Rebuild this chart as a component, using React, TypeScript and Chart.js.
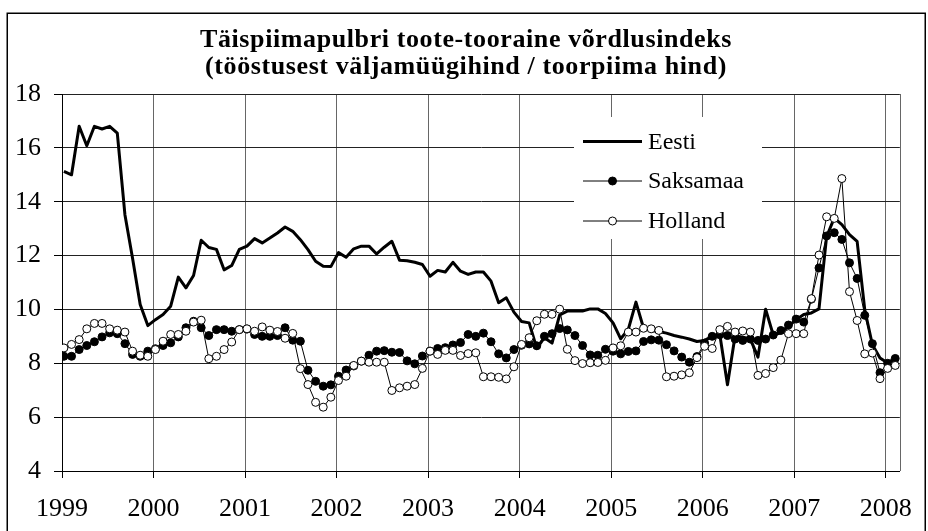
import React, { useEffect, useRef } from "react";
import { Chart, registerables } from "chart.js";

Chart.register(...registerables);

// Monthly values, January 1999 – February 2008
const eesti = [
  15.13, 15.0, 16.8, 16.08, 16.8, 16.7, 16.8, 16.55, 13.52, 11.9, 10.18, 9.4,
  9.62, 9.81, 10.12, 11.2, 10.8, 11.26, 12.57, 12.3, 12.23, 11.47, 11.63, 12.23,
  12.35, 12.63, 12.47, 12.65, 12.84, 13.06, 12.9, 12.59, 12.22, 11.79, 11.6, 11.59,
  12.11, 11.94, 12.25, 12.35, 12.35, 12.06, 12.31, 12.53, 11.83, 11.81, 11.75, 11.67,
  11.23, 11.45, 11.39, 11.75, 11.42, 11.3, 11.39, 11.39, 11.05, 10.25, 10.43, 9.9,
  9.55, 9.5, 8.55, 8.95, 8.75, 9.8, 9.94, 9.94, 9.94, 10.02, 10.02, 9.85,
  9.5, 8.91, 9.26, 10.27, 9.3, 9.22, 9.18, 9.12, 9.03, 8.97, 8.9, 8.81,
  8.85, 9.0, 9.06, 7.2, 9.02, 8.97, 8.9, 8.23, 10.01, 9.05, 9.13, 9.37,
  9.62, 9.81, 9.87, 10.02, 12.71, 13.39, 13.15, 12.78, 12.53, 9.99, 8.69, 8.2,
  8.01, 8.2,
];

const saksamaa = [
  8.26, 8.26, 8.51, 8.66, 8.8, 8.98, 9.13, 9.1, 8.73, 8.33, 8.26, 8.45,
  8.54, 8.66, 8.76, 8.98, 9.32, 9.56, 9.32, 9.03, 9.25, 9.25, 9.19, 9.25,
  9.27, 9.07, 9.0, 9.0, 9.03, 9.32, 8.86, 8.82, 7.74, 7.33, 7.15, 7.2,
  7.52, 7.75, 7.9, 8.08, 8.3, 8.45, 8.47, 8.41, 8.4, 8.09, 7.98, 8.27,
  8.45, 8.55, 8.58, 8.68, 8.77, 9.07, 9.0, 9.12, 8.8, 8.35, 8.2, 8.51,
  8.67, 8.72, 8.65, 9.0, 9.1, 9.29, 9.24, 9.03, 8.66, 8.31, 8.3, 8.52,
  8.45, 8.35, 8.44, 8.46, 8.81, 8.87, 8.86, 8.69, 8.46, 8.23, 8.04, 8.25,
  8.75, 9.0, 9.06, 9.03, 8.9, 8.85, 8.9, 8.85, 8.9, 9.05, 9.22, 9.42,
  9.64, 9.53, 10.38, 11.54, 12.73, 12.85, 12.6, 11.73, 11.15, 9.78, 8.73, 7.65,
  8.0, 8.18,
];

const holland = [
  8.57, 8.7, 8.88, 9.28, 9.48, 9.48, 9.28, 9.23, 9.16, 8.45, 8.3, 8.26,
  8.51, 8.82, 9.07, 9.07, 9.19, 9.53, 9.6, 8.17, 8.26, 8.51, 8.79, 9.25,
  9.28, 9.19, 9.35, 9.23, 9.18, 8.93, 9.11, 7.8, 7.21, 6.55, 6.37, 6.74,
  7.36, 7.52, 7.92, 8.08, 8.04, 8.04, 8.04, 6.99, 7.09, 7.15, 7.21, 7.81,
  8.45, 8.33, 8.48, 8.48, 8.29, 8.36, 8.39, 7.5, 7.5, 7.48, 7.42, 7.87,
  8.7, 8.95, 9.58, 9.82, 9.82, 10.01, 8.52, 8.1, 7.99, 8.02, 8.03, 8.11,
  8.57, 8.65, 9.16, 9.16, 9.3, 9.28, 9.22, 7.5, 7.52, 7.57, 7.65, 8.21,
  8.63, 8.55, 9.25, 9.37, 9.16, 9.2, 9.16, 7.55, 7.62, 7.84, 8.12, 9.1,
  9.1, 9.1, 10.4, 12.02, 13.44, 13.38, 14.86, 10.66, 9.59, 8.35, 8.38, 7.43,
  7.81, 7.92,
];

const seriesNames = ["Eesti", "Saksamaa", "Holland"];
const yearTicks = [0, 12, 24, 36, 48, 60, 72, 84, 96, 108];
const yearLabels = ["1999", "2000", "2001", "2002", "2003", "2004", "2005", "2006", "2007", "2008"];
const titleLines = [
  "Täispiimapulbri toote-tooraine võrdlusindeks",
  "(tööstusest väljamüügihind / toorpiima hind)",
];

const X_OFFSET = 0.25;
const X_MAX = 109.85;
const FONT = '"Liberation Serif", "Times New Roman", serif';

const toPoints = (arr: number[]) => arr.map((v, i) => ({ x: i + X_OFFSET, y: v }));

const decorPlugin = {
  id: "decor",
  beforeDraw(chart: any) {
    const ctx = chart.ctx;
    ctx.save();
    ctx.fillStyle = "#fff";
    ctx.fillRect(0, 0, chart.width, chart.height);
    ctx.restore();
  },
  afterDraw(chart: any) {
    const ctx = chart.ctx;
    const a = chart.chartArea;
    ctx.save();
    // plot area right edge
    ctx.strokeStyle = "#666";
    ctx.lineWidth = 1;
    ctx.beginPath();
    const rx = Math.round(a.right) + 0.5;
    ctx.moveTo(rx, a.top);
    ctx.lineTo(rx, a.bottom);
    ctx.stroke();

    // legend
    ctx.fillStyle = "#fff";
    ctx.fillRect(574, 117, 188, 122);
    const rows = [141.5, 181, 221];
    const x0 = 583, x1 = 642, tx = 648;
    ctx.strokeStyle = "#000";
    rows.forEach((y, k) => {
      ctx.beginPath();
      ctx.lineWidth = k === 0 ? 3 : 1;
      ctx.moveTo(x0, y);
      ctx.lineTo(x1, y);
      ctx.stroke();
      if (k > 0) {
        ctx.beginPath();
        ctx.lineWidth = 1;
        ctx.arc((x0 + x1) / 2, y, 4, 0, Math.PI * 2);
        ctx.fillStyle = k === 1 ? "#000" : "#fff";
        ctx.fill();
        ctx.stroke();
      }
      ctx.fillStyle = "#000";
      ctx.font = `24px ${FONT}`;
      ctx.textAlign = "left";
      ctx.textBaseline = "middle";
      ctx.fillText(seriesNames[k], tx, y + 1);
    });

    // title
    ctx.fillStyle = "#000";
    ctx.font = `bold 26px ${FONT}`;
    ctx.textAlign = "center";
    ctx.textBaseline = "alphabetic";
    try { (ctx as any).letterSpacing = "0.6px"; } catch (e) {}
    ctx.fillText(titleLines[0], 466, 47);
    ctx.fillText(titleLines[1], 466, 74);
    try { (ctx as any).letterSpacing = "0px"; } catch (e) {}

    // outer frame
    ctx.strokeStyle = "#000";
    ctx.lineWidth = 1.5;
    ctx.strokeRect(7.25, 13.25, 918, 540);
    ctx.restore();
  },
};

export default function App() {
  const ref = useRef<HTMLCanvasElement | null>(null);

  useEffect(() => {
    document.body.style.margin = "0";
    const canvas = ref.current;
    if (!canvas) return;
    const chart = new Chart(canvas, {
      type: "line",
      data: {
        datasets: [
          {
            label: seriesNames[0],
            data: toPoints(eesti),
            borderColor: "#000",
            borderWidth: 3,
            borderJoinStyle: "round",
            pointRadius: 0,
            tension: 0,
            order: 3,
          },
          {
            label: seriesNames[1],
            data: toPoints(saksamaa),
            borderColor: "#000",
            borderWidth: 1,
            pointRadius: 4,
            pointBackgroundColor: "#000",
            pointBorderColor: "#000",
            pointBorderWidth: 1,
            tension: 0,
            order: 2,
          },
          {
            label: seriesNames[2],
            data: toPoints(holland),
            borderColor: "#000",
            borderWidth: 1,
            pointRadius: 4,
            pointBackgroundColor: "#fff",
            pointBorderColor: "#000",
            pointBorderWidth: 1,
            tension: 0,
            order: 1,
          },
        ],
      },
      options: {
        responsive: false,
        animation: false,
        devicePixelRatio: 1,
        layout: { padding: { left: 0, right: 16, top: 94, bottom: 0 } },
        plugins: {
          legend: { display: false },
          title: { display: false },
          tooltip: { enabled: false },
        },
        scales: {
          x: {
            type: "linear",
            min: 0,
            max: X_MAX,
            afterBuildTicks: (s: any) => {
              s.ticks = yearTicks.map((v) => ({ value: v }));
            },
            afterFit: (s: any) => {
              s.height = 60;
            },
            ticks: {
              autoSkip: false,
              maxRotation: 0,
              color: "#000",
              padding: 16,
              font: { family: FONT, size: 26 },
              callback: (v: any) => {
                const k = yearTicks.indexOf(Number(v));
                return k >= 0 ? yearLabels[k] : "";
              },
            },
            grid: { color: "#666", lineWidth: 1, tickColor: "#000", tickLength: 7 },
            border: { color: "#000", width: 1 },
          },
          y: {
            min: 4,
            max: 18,
            afterFit: (s: any) => {
              s.width = 62;
            },
            ticks: {
              stepSize: 2,
              color: "#000",
              padding: 13,
              font: { family: FONT, size: 26 },
            },
            grid: { color: "#222", lineWidth: 1, tickColor: "#000", tickLength: 8 },
            border: { color: "#000", width: 1 },
          },
        },
      },
      plugins: [decorPlugin],
    } as any);
    return () => chart.destroy();
  }, []);

  return (
    <div style={{ position: "absolute", left: 0, top: 0, width: 928, height: 531 }}>
      <canvas ref={ref} width={928} height={531} style={{ width: 928, height: 531, display: "block" }} />
    </div>
  );
}
